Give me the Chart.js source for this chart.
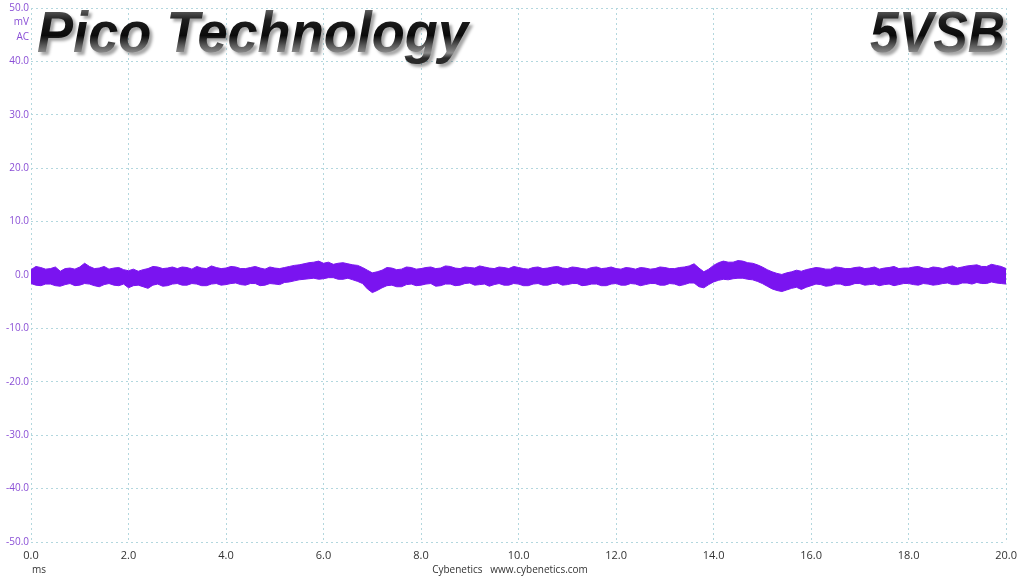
<!DOCTYPE html>
<html>
<head>
<meta charset="utf-8">
<script src="https://cdn.jsdelivr.net/npm/chart.js@4"></script>
<style>
  html, body { margin: 0; padding: 0; background: #fff; }
  #wrap { width: 1024px; height: 576px; }
</style>
</head>
<body>
<div id="wrap"><canvas id="chart" width="1024" height="576"></canvas></div>
<script>
// Pas d'échantillonnage (ms) : un point toutes les 0.1 ms, de 0 à 20 ms
const sampleStepMs = 0.1
// Enveloppe haute du bruit (mV)
const upperMv = [
  1.0, 1.6, 1.4, 1.1, 1.2, 1.5, 0.7, 1.2, 1.3, 1.1,
  1.5, 2.2, 1.6, 1.2, 1.3, 1.6, 1.1, 1.3, 1.4, 1.0,
  0.8, 1.1, 0.7, 1.0, 1.2, 1.6, 1.5, 1.2, 1.3, 1.5,
  1.2, 1.5, 1.4, 1.1, 1.6, 1.3, 1.2, 1.7, 1.4, 1.2,
  1.3, 1.6, 1.5, 1.2, 1.2, 1.4, 1.6, 1.3, 1.1, 1.5,
  1.3, 1.2, 1.4, 1.6, 1.8, 1.9, 2.1, 2.3, 2.4, 2.6,
  2.2, 2.4, 2.0, 2.2, 2.3, 2.1, 1.9, 1.8, 1.4, 0.9,
  0.4, 0.6, 0.9, 1.4, 1.3, 1.0, 1.1, 1.5, 1.4, 1.1,
  1.2, 1.4, 1.5, 1.2, 1.3, 1.7, 1.6, 1.3, 1.2, 1.5,
  1.4, 1.3, 1.7, 1.5, 1.3, 1.2, 1.5, 1.4, 1.2, 1.6,
  1.4, 1.2, 1.1, 1.4, 1.5, 1.2, 1.3, 1.5, 1.6, 1.3,
  1.2, 1.5, 1.4, 1.2, 1.1, 1.4, 1.5, 1.2, 1.3, 1.5,
  1.2, 1.1, 1.4, 1.3, 1.1, 1.4, 1.3, 1.1, 1.2, 1.5,
  1.4, 1.2, 1.2, 1.4, 1.5, 1.7, 2.1, 1.3, 0.6, 1.1,
  1.8, 2.3, 2.6, 2.4, 2.4, 2.7, 2.6, 2.3, 2.2, 1.9,
  1.5, 1.0, 0.6, 0.3, 0.1, 0.4, 0.6, 0.9, 0.7, 1.0,
  1.2, 1.4, 1.3, 1.1, 1.1, 1.5, 1.4, 1.2, 1.2, 1.4,
  1.5, 1.2, 1.3, 1.5, 1.1, 1.3, 1.4, 1.6, 1.2, 1.3,
  1.3, 1.5, 1.6, 1.3, 1.2, 1.5, 1.4, 1.2, 1.5, 1.7,
  1.3, 1.5, 1.7, 1.8, 1.9, 1.6, 1.6, 2.0, 1.8, 1.6,
  1.2
]
// Enveloppe basse du bruit (mV)
const lowerMv = [
  -1.6, -1.9, -2.0, -1.7, -1.7, -2.0, -2.1, -1.8, -1.6, -2.0,
  -1.9, -1.6, -1.7, -2.0, -2.2, -1.8, -1.6, -1.9, -2.0, -1.7,
  -2.4, -2.0, -1.9, -2.2, -2.5, -1.9, -1.7, -2.1, -2.0, -1.7,
  -1.6, -1.9, -1.9, -1.6, -1.7, -2.0, -2.0, -1.7, -1.6, -1.9,
  -1.8, -1.6, -1.5, -1.8, -1.9, -1.6, -1.6, -2.0, -1.9, -1.6,
  -1.7, -1.8, -1.4, -1.3, -1.1, -0.9, -0.8, -0.7, -0.6, -0.8,
  -0.7, -0.5, -0.5, -0.8, -0.8, -0.6, -0.9, -1.2, -1.6, -2.6,
  -3.3, -2.9, -2.4, -2.0, -1.9, -2.2, -2.2, -1.8, -1.7, -2.0,
  -1.9, -1.7, -1.6, -2.1, -2.0, -1.7, -1.7, -2.0, -1.9, -1.6,
  -1.5, -1.9, -1.8, -1.7, -2.1, -1.8, -1.6, -1.9, -1.9, -1.6,
  -1.7, -2.0, -2.0, -1.7, -1.6, -1.9, -1.9, -1.6, -1.5, -1.9,
  -1.8, -1.6, -1.6, -2.0, -1.9, -1.7, -1.7, -2.0, -2.0, -1.7,
  -1.6, -1.9, -1.9, -1.6, -1.7, -2.0, -1.8, -1.6, -1.6, -1.9,
  -1.9, -1.6, -1.7, -2.0, -1.8, -1.5, -1.5, -2.2, -2.4, -1.8,
  -1.3, -1.0, -0.8, -0.9, -0.7, -0.6, -0.6, -0.8, -0.9, -1.2,
  -1.6, -2.1, -2.6, -2.9, -3.1, -2.8, -2.5, -2.3, -2.7, -2.3,
  -2.0, -1.7, -1.8, -2.1, -2.0, -1.7, -1.7, -2.0, -1.9, -1.6,
  -1.6, -1.9, -1.8, -1.7, -2.0, -1.8, -1.7, -2.0, -1.8, -1.6,
  -1.6, -1.8, -1.9, -1.6, -1.7, -1.9, -1.8, -1.6, -1.5, -1.8,
  -1.8, -1.5, -1.5, -1.7, -1.4, -1.6, -1.6, -1.3, -1.5, -1.6,
  -1.7
]
// Graduations des axes
const xTicksMs = [0, 2, 4, 6, 8, 10, 12, 14, 16, 18, 20]
const yTicksMv = [-50, -40, -30, -20, -10, 0, 10, 20, 30, 40, 50]

const purple = '#7a14f0'
const gridColor = '#b3d7de'

// Textes dessinés par-dessus le graphique
const overlayText = {
  id: 'overlayText',
  afterDraw(chart) {
    const ctx = chart.ctx
    ctx.save()
    ctx.font = '10px "Open Sans"'
    ctx.fillStyle = '#8a4fd6'
    ctx.textAlign = 'right'
    ctx.textBaseline = 'middle'
    ctx.fillText('mV', 29, 22)
    ctx.fillText('AC', 29, 37)
    ctx.fillStyle = '#333'
    ctx.textAlign = 'left'
    ctx.fillText('ms', 32, 570)
    ctx.textAlign = 'center'
    ctx.fillText('Cybenetics   www.cybenetics.com', 510, 570)
    drawMetal(ctx, 'Pico Technology', 37, 52, 431, 'left')
    drawMetal(ctx, '5VSB', 1005, 52, 135, 'right')
    ctx.restore()
  }
}

function drawMetal(ctx, text, x, baseline, width, align) {
  ctx.save()
  ctx.font = 'italic bold 58px "Liberation Sans"'
  const w = ctx.measureText(text).width
  const sx = width / w
  const left = align == 'left' ? x : x - width
  ctx.translate(left, baseline)
  ctx.scale(sx, 1)
  const grad = ctx.createLinearGradient(0, -44, 0, 6)
  grad.addColorStop(0, '#6a6a6a')
  grad.addColorStop(0.25, '#1c1c1c')
  grad.addColorStop(0.55, '#0a0a0a')
  grad.addColorStop(0.75, '#5a5a5a')
  grad.addColorStop(0.9, '#8c8c8c')
  grad.addColorStop(1, '#2a2a2a')
  ctx.textAlign = 'left'
  ctx.textBaseline = 'alphabetic'
  ctx.shadowColor = 'rgba(0,0,0,0.35)'
  ctx.shadowOffsetX = 3
  ctx.shadowOffsetY = 3
  ctx.shadowBlur = 3
  ctx.fillStyle = grad
  ctx.fillText(text, 0, 0)
  ctx.restore()
}

const config = {
  type: 'line',
  data: {
    datasets: [{
      label: 'haut',
      data: upperMv.map((v, i) => ({x: i * sampleStepMs, y: v})),
      borderColor: purple,
      backgroundColor: purple,
      borderWidth: 1,
      pointRadius: 0,
      fill: '+1'
    },
    {
      label: 'bas',
      data: lowerMv.map((v, i) => ({x: i * sampleStepMs, y: v})),
      borderColor: purple,
      backgroundColor: purple,
      borderWidth: 1,
      pointRadius: 0,
      fill: false
    }]
  },
  options: {
    responsive: false,
    animation: false,
    layout: { padding: { top: 7, right: 13, left: 0, bottom: 0 } },
    plugins: {
      legend: { display: false },
      tooltip: { enabled: false }
    },
    scales: {
      x: {
        type: 'linear',
        min: 0,
        max: 20,
        afterFit: s => { s.height = 34 },
        afterBuildTicks: s => { s.ticks = xTicksMs.map(v => ({value: v})) },
        border: { display: false, dash: [2, 3] },
        grid: { color: gridColor, drawTicks: false },
        ticks: {
          padding: 7,
          color: '#333',
          font: { family: 'Open Sans', size: 11 },
          callback: v => v.toFixed(1)
        }
      },
      y: {
        min: -50,
        max: 50,
        afterFit: s => { s.width = 31 },
        afterBuildTicks: s => { s.ticks = yTicksMv.map(v => ({value: v})) },
        border: { display: false, dash: [2, 3] },
        grid: { color: gridColor, drawTicks: false },
        ticks: {
          padding: 2,
          color: '#8a4fd6',
          font: { family: 'Open Sans', size: 10 },
          callback: v => v.toFixed(1)
        }
      }
    }
  },
  plugins: [overlayText]
}

const MyChart = new Chart(document.getElementById('chart').getContext('2d'), config)
</script>
</body>
</html>
